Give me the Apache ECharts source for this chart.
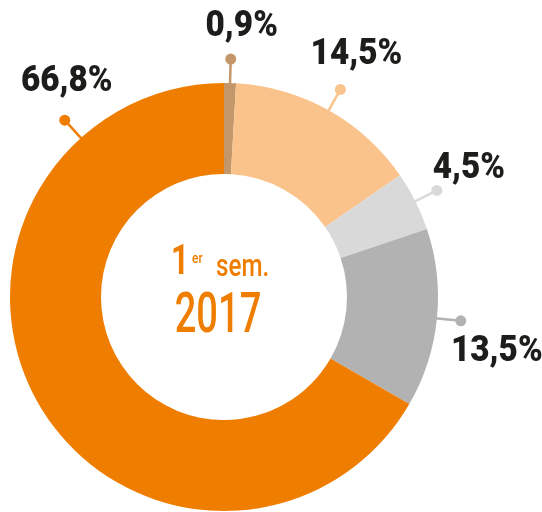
<!DOCTYPE html>
<html>
<head>
<meta charset="utf-8">
<script src="https://cdn.jsdelivr.net/npm/echarts@6/dist/echarts.min.js"></script>
<style>
  html, body { margin: 0; padding: 0; background: #fff; }
  #chart-donut { width: 542px; height: 512px; }
</style>
</head>
<body>
<div id="chart-donut"></div>
<script>
// slices, clockwise from 12 o'clock
const sliceValues = [0.9, 14.5, 4.5, 13.5, 66.8];
const sliceColors = ['#c4976a', '#f9c38b', '#d9d9d9', '#b2b2b2', '#ef7d00'];

const centerLine1 = ['1', 'er', 'sem.'];
const centerLine2 = '2017';

// layout (not data)
const CX = 224, CY = 297, R_IN = 123, R_OUT = 214, R_DOT = 238;
// the big slice has its label near the top-left rather than at its middle
const labelAngleOverride = { 4: 132 };
// text offset from the dot, per slice
const textOffset = [[11, -32], [16, -35], [32, -22], [36, 31], [2, -38]];

const labelFont = '900 37px Roboto, sans-serif';
const orange = '#ef7d00';

function fmt(v) {
  return v.toFixed(1).replace('.', ',') + '%';
}

const total = sliceValues.reduce((a, b) => a + b, 0);

// mid angle (degrees, counter-clockwise from east) of each slice
function midAngle(i) {
  if (labelAngleOverride[i] !== undefined) return labelAngleOverride[i];
  let before = 0;
  for (let k = 0; k < i; k++) before += sliceValues[k];
  const mid = before + sliceValues[i] / 2;
  return 90 - mid / total * 360;
}

const dom = document.getElementById('chart-donut');
const myChart = echarts.init(dom, null, { renderer: 'canvas' });

var option = {
  animation: false,
  series: [
    {
      type: 'pie',
      center: [CX, CY],
      radius: [R_IN, R_OUT],
      startAngle: 90,
      clockwise: true,
      silent: true,
      label: { show: false },
      labelLine: { show: false },
      itemStyle: { borderWidth: 0 },
      data: sliceValues.map((v, i) => ({
        name: fmt(v),
        value: v,
        itemStyle: { color: sliceColors[i] }
      }))
    },
    {
      // label lines with a dot at the end, and the percent text
      type: 'custom',
      coordinateSystem: 'none',
      silent: true,
      data: sliceValues.map((v, i) => [v, i]),
      renderItem(params, api) {
        const i = params.dataIndex;
        const a = midAngle(i) * Math.PI / 180;
        const cos = Math.cos(a), sin = -Math.sin(a);
        const x1 = CX + (R_OUT - 2) * cos, y1 = CY + (R_OUT - 2) * sin;
        const x2 = CX + R_DOT * cos, y2 = CY + R_DOT * sin;
        const col = sliceColors[i];
        return {
          type: 'group',
          children: [
            { type: 'line', shape: { x1, y1, x2, y2 }, style: { stroke: col, lineWidth: 2.5 } },
            { type: 'circle', shape: { cx: x2, cy: y2, r: 5.5 }, style: { fill: col } },
            {
              type: 'text',
              x: x2 + textOffset[i][0],
              y: y2 + textOffset[i][1],
              scaleX: 0.9,
              style: {
                text: fmt(api.value(0)),
                font: labelFont,
                fill: '#1d1d1b',
                align: 'center',
                verticalAlign: 'middle'
              }
            }
          ]
        };
      }
    }
  ],
  graphic: [
    {
      type: 'text', x: 180, y: 263, scaleX: 0.75,
      style: { text: centerLine1[0], font: 'bold 42px Roboto, sans-serif', fill: orange, align: 'center', verticalAlign: 'middle' }
    },
    {
      type: 'text', x: 192, y: 259, scaleX: 0.8,
      style: { text: centerLine1[1], font: '500 15px Roboto, sans-serif', fill: orange, align: 'left', verticalAlign: 'middle' }
    },
    {
      type: 'text', x: 216, y: 268, scaleX: 0.78,
      style: { text: centerLine1[2], font: '500 31px Roboto, sans-serif', fill: orange, align: 'left', verticalAlign: 'middle' }
    },
    {
      type: 'text', x: 218, y: 318, scaleX: 0.68,
      style: { text: centerLine2, font: '500 56px Roboto, sans-serif', fill: orange, align: 'center', verticalAlign: 'middle' }
    }
  ]
};

option && myChart.setOption(option);
window.addEventListener('resize', myChart.resize);
</script>
</body>
</html>
